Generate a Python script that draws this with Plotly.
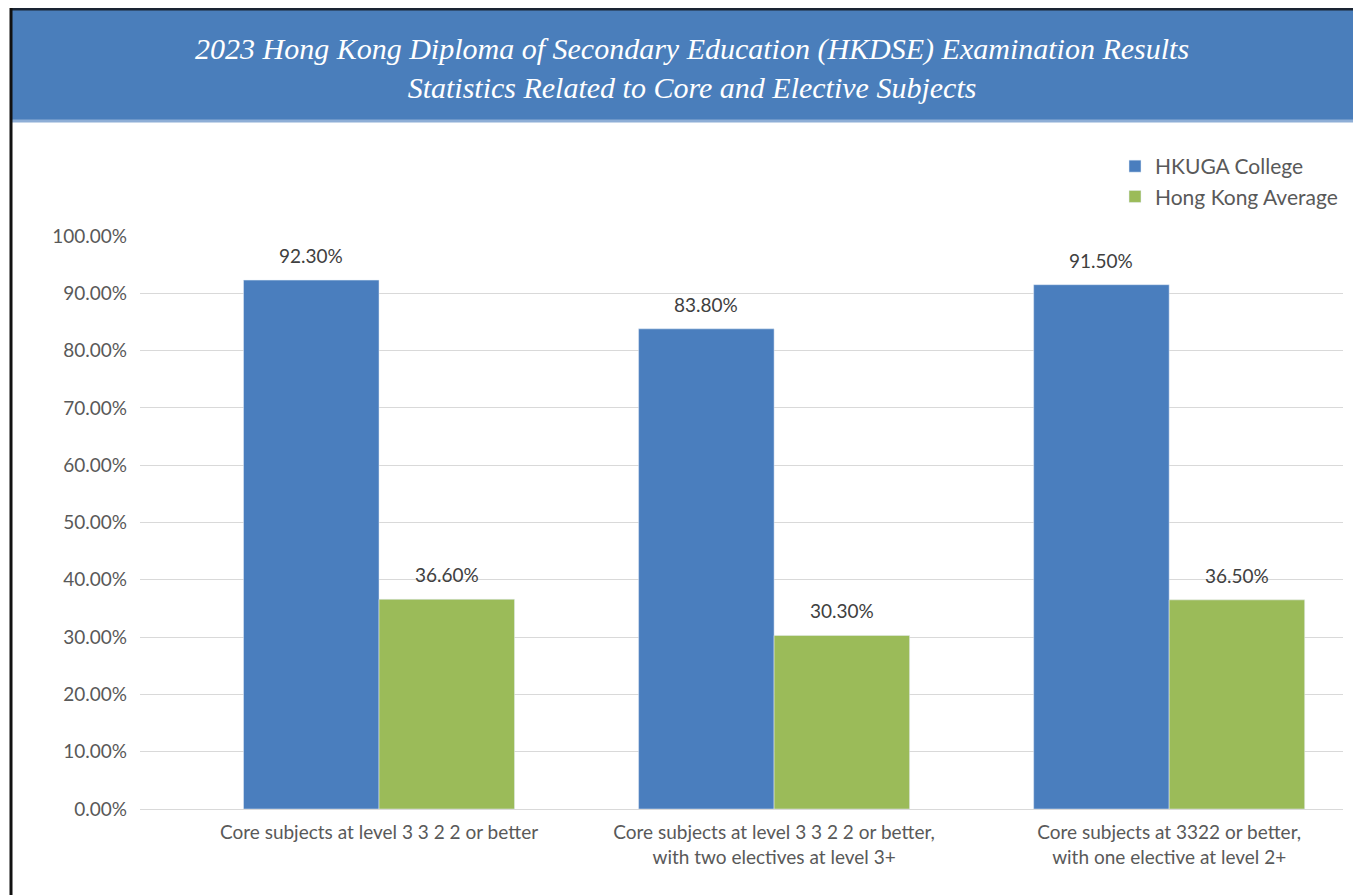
import plotly.graph_objects as go

categories = [
    "Core subjects at level 3 3 2 2 or better",
    "Core subjects at level 3 3 2 2 or better,<br>with two electives at level 3+",
    "Core subjects at 3322 or better,<br>with one elective at level 2+",
]
hkuga = [92.3, 83.8, 91.5]
hk_avg = [36.6, 30.3, 36.5]
series_names = ["HKUGA College", "Hong Kong Average"]
title_lines = [
    "2023 Hong Kong Diploma of Secondary Education (HKDSE) Examination Results",
    "Statistics Related to Core and Elective Subjects",
]

BLUE = "#4A7EBE"
GREEN = "#9BBB59"
TXT = "#595959"
FONT = "Lato, Open Sans, sans-serif"

# page body has an 8px margin; work in reference-pixel coords and shift
OFF = 8
W, H = 1361 - OFF, 895 - OFF
L, R, T, B = 140 - OFF, 18, 236 - OFF, 86
pw, ph = W - L - R, H - T - B

def px(xp):
    return (xp - OFF - L) / pw

def py(yp):
    return (H - B - (yp - OFF)) / ph

fig = go.Figure()
for name, vals, col in [(series_names[0], hkuga, BLUE), (series_names[1], hk_avg, GREEN)]:
    fig.add_trace(go.Bar(x=categories, y=vals, name=name, marker_color=col,
                         hoverinfo="x+y+name"))

annotations = []
for vals, shift in [(hkuga, -68), (hk_avg, 68)]:
    for c, v in zip(categories, vals):
        annotations.append(dict(
            x=c, y=v, text=f"{v:.2f}%", showarrow=False, xanchor="center",
            yanchor="bottom", xshift=shift, yshift=11,
            font=dict(size=19, color="#404040", family=FONT),
        ))

annotations.append(dict(
    text=title_lines[0] + "<br>" + title_lines[1],
    xref="paper", yref="paper", x=px(692), y=py(68),
    xanchor="center", yanchor="middle", showarrow=False,
    font=dict(family="Liberation Serif, DejaVu Serif, serif", size=30,
              color="white", style="italic"),
))

shapes = [
    dict(type="rect", xref="paper", yref="paper", x0=px(11), x1=px(1370),
         y0=py(122), y1=py(9), fillcolor="#4A7EBB", line_width=0, layer="below"),
    dict(type="line", xref="paper", yref="paper", x0=px(11), x1=px(1370),
         y0=py(9), y1=py(9), line=dict(color="#1a2433", width=3)),
    dict(type="line", xref="paper", yref="paper", x0=px(11), x1=px(1370),
         y0=py(121), y1=py(121), line=dict(color="#8eaed6", width=3)),
    dict(type="line", xref="paper", yref="paper", x0=px(11), x1=px(11),
         y0=py(8), y1=py(905), line=dict(color="#111111", width=3)),
]

fig.update_layout(
    width=W, height=H,
    margin=dict(l=L, r=R, t=T, b=B, autoexpand=False),
    paper_bgcolor="white", plot_bgcolor="white",
    barmode="group", bargap=0.314, bargroupgap=0,
    shapes=shapes, annotations=annotations,
    showlegend=True,
    legend=dict(x=1.0, xanchor="right", y=py(146), yanchor="top",
                font=dict(size=21, color=TXT, family=FONT),
                itemwidth=30, tracegroupgap=0, bgcolor="rgba(0,0,0,0)"),
    font=dict(family=FONT, color=TXT),
)

fig.update_xaxes(
    range=[-0.605, 2.44], showgrid=False, showline=False, ticks="",
    ticklabelstandoff=10,
    tickfont=dict(size=19, color=TXT, family=FONT),
)
fig.update_yaxes(
    range=[0, 100], dtick=10, tickformat=".2f", ticksuffix="%",
    showgrid=True, gridcolor="#D9D9D9", gridwidth=1,
    zeroline=True, zerolinecolor="#D9D9D9", zerolinewidth=1,
    showline=False, ticks="", ticklabelstandoff=12,
    tickfont=dict(size=19, color=TXT, family=FONT),
)

fig.write_html("out.html")
